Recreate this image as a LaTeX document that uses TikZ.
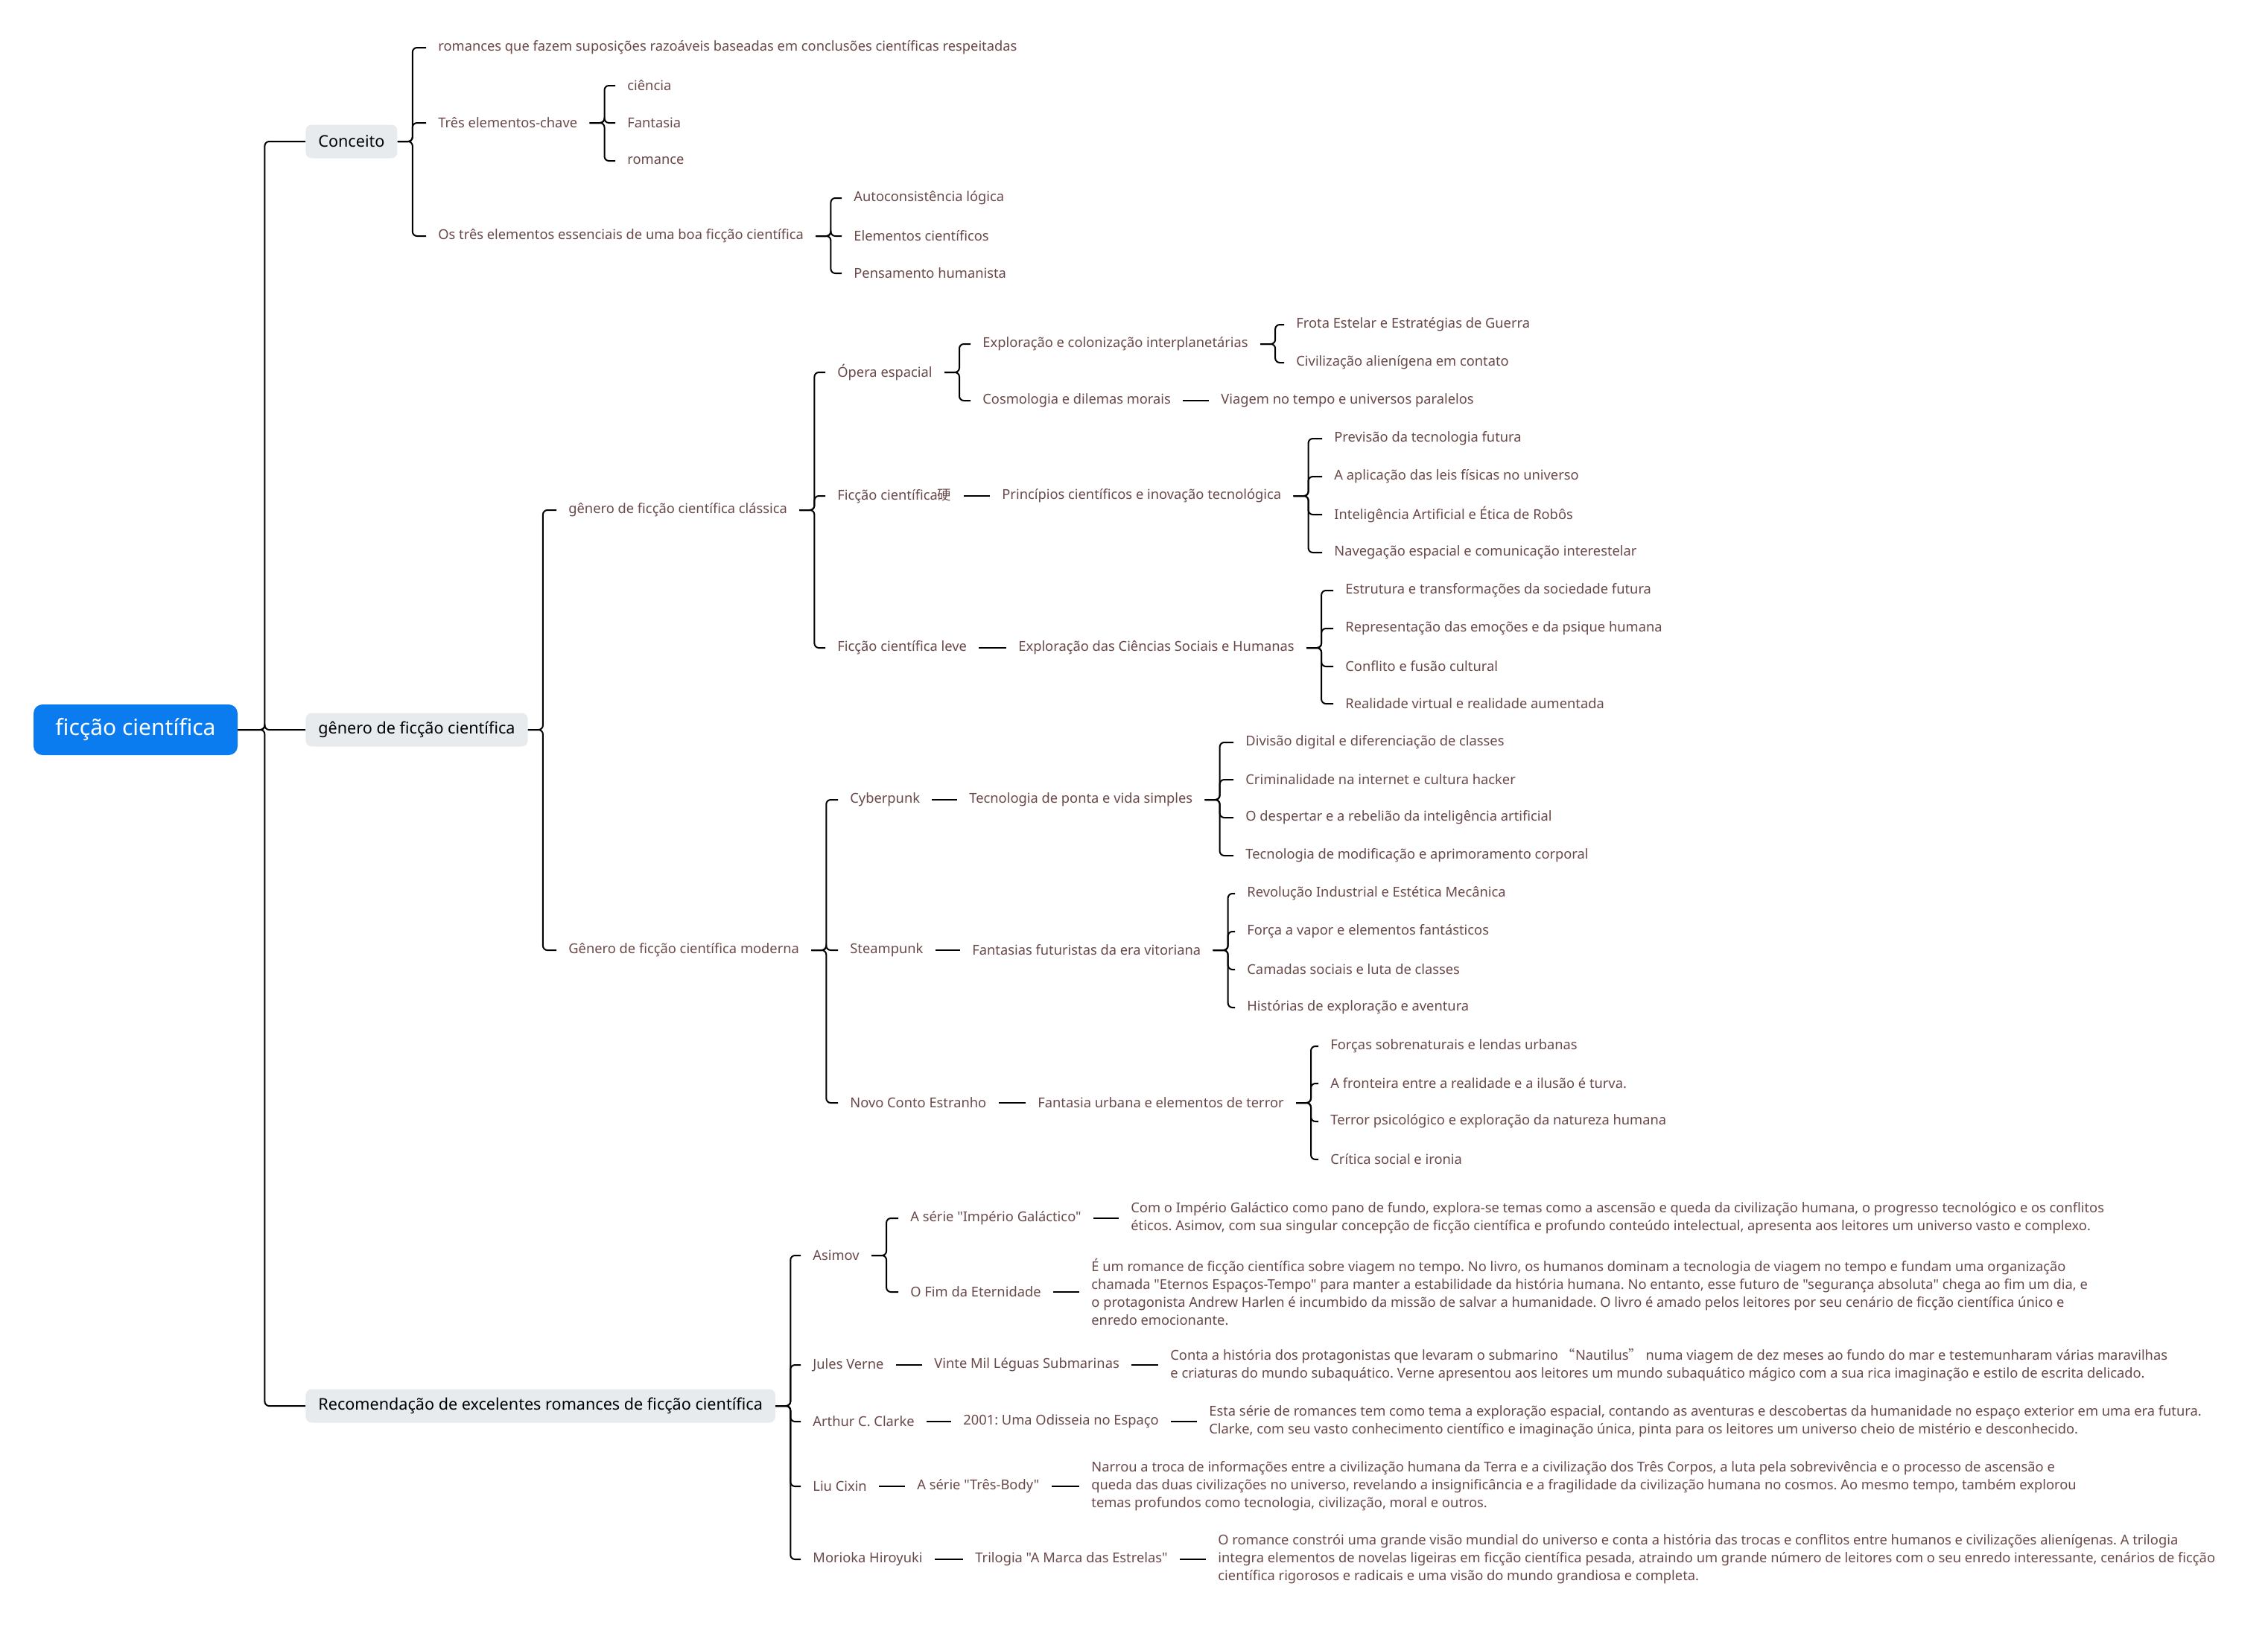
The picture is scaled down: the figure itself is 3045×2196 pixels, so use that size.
\documentclass[tikz,border=0pt]{standalone}
\usepackage{fontspec}
\setmainfont{Noto Sans}[Ligatures=TeXOff]
\newfontfamily\cjk{Noto Sans CJK SC}
\usepackage{tikz}
\definecolor{rootblue}{RGB}{11,124,240}
\definecolor{topicgray}{RGB}{232,235,238}
\definecolor{leafbrown}{RGB}{105,72,72}
\frenchspacing

\begin{document}
\begin{tikzpicture}[x=0.5pt, y=-0.5pt,
  every node/.style={font=\fontsize{9.15}{12}\selectfont},
  root/.style={rounded corners=6pt, fill=rootblue, text=white, font=\fontsize{15}{18}\selectfont, minimum width=137pt, minimum height=34pt},
  topic/.style={rounded corners=4pt, fill=topicgray, text=black, font=\fontsize{10.8}{13}\selectfont, inner xsep=8.5pt, minimum height=22.5pt, anchor=west},
  leaf/.style={text=leafbrown, inner xsep=8pt, inner ysep=2pt, anchor=west},
  desc/.style={leaf, align=left},
  link/.style={draw=black, line width=1pt, rounded corners=3pt}]
\useasboundingbox (0,0) rectangle (3045,2196);

% root and main topics
\node[root] (sf) at (182,980) {ficção científica};
\node[topic] (conc) at (410,190) {Conceito};
\node[topic] (gen) at (410,980) {gênero de ficção científica};
\node[topic] (rec) at (410,1888) {Recomendação de excelentes romances de ficção científica};

% Conceito
\node[leaf] (def) at (572,64) {romances que fazem suposições razoáveis baseadas em conclusões científicas respeitadas};
\node[leaf] (tres) at (572,165) {Três elementos-chave};
\node[leaf] (ess) at (572,317) {Os três elementos essenciais de uma boa ficção científica};
\node[leaf] (cien) at (826,115) {ciência};
\node[leaf] (fant) at (826,165) {Fantasia};
\node[leaf] (rom) at (826,216) {romance};
\node[leaf] (auto) at (1130,266) {Autoconsistência lógica};
\node[leaf] (elem) at (1130,317) {Elementos científicos};
\node[leaf] (hum) at (1130,367) {Pensamento humanista};

% genero classico
\node[leaf] (cla) at (747,685) {gênero de ficção científica clássica};
\node[leaf] (opera) at (1108,500) {Ópera espacial};
\node[leaf] (hard) at (1108,666) {Ficção científica{\cjk 硬}};
\node[leaf] (soft) at (1108,870) {Ficção científica leve};
\node[leaf] (expl) at (1303,462) {Exploração e colonização interplanetárias};
\node[leaf] (cosmo) at (1303,538) {Cosmologia e dilemas morais};
\node[leaf] (frota) at (1724,436) {Frota Estelar e Estratégias de Guerra};
\node[leaf] (alien) at (1724,487) {Civilização alienígena em contato};
\node[leaf] (tempo) at (1623,538) {Viagem no tempo e universos paralelos};
\node[leaf] (princ) at (1329,666) {Princípios científicos e inovação tecnológica};
\node[leaf] (prev) at (1775,589) {Previsão da tecnologia futura};
\node[leaf] (leis) at (1775,640) {A aplicação das leis físicas no universo};
\node[leaf] (ia) at (1775,691) {Inteligência Artificial e Ética de Robôs};
\node[leaf] (nav) at (1775,742) {Navegação espacial e comunicação interestelar};
\node[leaf] (soc) at (1351,870) {Exploração das Ciências Sociais e Humanas};
\node[leaf] (estr) at (1790,793) {Estrutura e transformações da sociedade futura};
\node[leaf] (emo) at (1790,844) {Representação das emoções e da psique humana};
\node[leaf] (cult) at (1790,895) {Conflito e fusão cultural};
\node[leaf] (rv) at (1790,945) {Realidade virtual e realidade aumentada};

% genero moderno
\node[leaf] (mod) at (747,1276) {Gênero de ficção científica moderna};
\node[leaf] (cyber) at (1125,1074) {Cyberpunk};
\node[leaf] (steam) at (1125,1276) {Steampunk};
\node[leaf] (weird) at (1125,1481) {Novo Conto Estranho};
\node[leaf] (ponta) at (1285,1074) {Tecnologia de ponta e vida simples};
\node[leaf] (div) at (1656,997) {Divisão digital e diferenciação de classes};
\node[leaf] (hack) at (1656,1047) {Criminalidade na internet e cultura hacker};
\node[leaf] (desp) at (1656,1098) {O despertar e a rebelião da inteligência artificial};
\node[leaf] (corp) at (1656,1149) {Tecnologia de modificação e aprimoramento corporal};
\node[leaf] (vito) at (1289,1276) {Fantasias futuristas da era vitoriana};
\node[leaf] (revo) at (1658,1200) {Revolução Industrial e Estética Mecânica};
\node[leaf] (vapor) at (1658,1251) {Força a vapor e elementos fantásticos};
\node[leaf] (camad) at (1658,1302) {Camadas sociais e luta de classes};
\node[leaf] (avent) at (1658,1353) {Histórias de exploração e aventura};
\node[leaf] (urb) at (1377,1481) {Fantasia urbana e elementos de terror};
\node[leaf] (sobren) at (1770,1405) {Forças sobrenaturais e lendas urbanas};
\node[leaf] (front) at (1770,1455) {A fronteira entre a realidade e a ilusão é turva.};
\node[leaf] (psic) at (1770,1506) {Terror psicológico e exploração da natureza humana};
\node[leaf] (crit) at (1770,1557) {Crítica social e ironia};

% recomendacoes
\node[leaf] (asimov) at (1075,1686) {Asimov};
\node[leaf] (verne) at (1075,1833) {Jules Verne};
\node[leaf] (clarke) at (1075,1909) {Arthur C. Clarke};
\node[leaf] (liu) at (1075,1996) {Liu Cixin};
\node[leaf] (morioka) at (1075,2094) {Morioka Hiroyuki};
\node[leaf] (imper) at (1206,1636) {A série "Império Galáctico"};
\node[leaf] (eterna) at (1206,1735) {O Fim da Eternidade};
\node[desc] (imperd) at (1502,1636) {Com o Império Galáctico como pano de fundo, explora-se temas como a ascensão e queda da civilização humana, o progresso tecnológico e os conflitos\\éticos. Asimov, com sua singular concepção de ficção científica e profundo conteúdo intelectual, apresenta aos leitores um universo vasto e complexo.};
\node[desc] (eternad) at (1449,1735) {É um romance de ficção científica sobre viagem no tempo. No livro, os humanos dominam a tecnologia de viagem no tempo e fundam uma organização\\chamada "Eternos Espaços-Tempo" para manter a estabilidade da história humana. No entanto, esse futuro de "segurança absoluta" chega ao fim um dia, e\\o protagonista Andrew Harlen é incumbido da missão de salvar a humanidade. O livro é amado pelos leitores por seu cenário de ficção científica único e\\enredo emocionante.};
\node[leaf] (nemo) at (1238,1833) {Vinte Mil Léguas Submarinas};
\node[desc] (nemod) at (1555,1833) {Conta a história dos protagonistas que levaram o submarino {\cjk “}Nautilus{\cjk ”} numa viagem de dez meses ao fundo do mar e testemunharam várias maravilhas\\e criaturas do mundo subaquático. Verne apresentou aos leitores um mundo subaquático mágico com a sua rica imaginação e estilo de escrita delicado.};
\node[leaf] (odis) at (1277,1909) {2001: Uma Odisseia no Espaço};
\node[desc] (odisd) at (1607,1909) {Esta série de romances tem como tema a exploração espacial, contando as aventuras e descobertas da humanidade no espaço exterior em uma era futura.\\Clarke, com seu vasto conhecimento científico e imaginação única, pinta para os leitores um universo cheio de mistério e desconhecido.};
\node[leaf] (body) at (1215,1996) {A série "Três-Body"};
\node[desc] (bodyd) at (1449,1996) {Narrou a troca de informações entre a civilização humana da Terra e a civilização dos Três Corpos, a luta pela sobrevivência e o processo de ascensão e\\queda das duas civilizações no universo, revelando a insignificância e a fragilidade da civilização humana no cosmos. Ao mesmo tempo, também explorou\\temas profundos como tecnologia, civilização, moral e outros.};
\node[leaf] (marca) at (1293,2094) {Trilogia "A Marca das Estrelas"};
\node[desc] (marcad) at (1619,2094) {O romance constrói uma grande visão mundial do universo e conta a história das trocas e conflitos entre humanos e civilizações alienígenas. A trilogia\\integra elementos de novelas ligeiras em ficção científica pesada, atraindo um grande número de leitores com o seu enredo interessante, cenários de ficção\\científica rigorosos e radicais e uma visão do mundo grandiosa e completa.};

% trunk
\draw[link] (sf.east) -- ++(36,0) |- (conc.west);
\draw[link] (sf.east) -- ++(36,0) |- (gen.west);
\draw[link] (sf.east) -- ++(36,0) |- (rec.west);

% Conceito links
\draw[link] (conc.east) -- ++(20,0) |- (def.west);
\draw[link] (conc.east) -- ++(20,0) |- (tres.west);
\draw[link] (conc.east) -- ++(20,0) |- (ess.west);
\draw[link] (tres.east) -- ++(20,0) |- (cien.west);
\draw[link] (tres.east) -- ++(20,0) |- (fant.west);
\draw[link] (tres.east) -- ++(20,0) |- (rom.west);
\draw[link] (ess.east) -- ++(20,0) |- (auto.west);
\draw[link] (ess.east) -- ++(20,0) |- (elem.west);
\draw[link] (ess.east) -- ++(20,0) |- (hum.west);

% genero links
\draw[link] (gen.east) -- ++(20,0) |- (cla.west);
\draw[link] (gen.east) -- ++(20,0) |- (mod.west);
\draw[link] (cla.east) -- ++(20,0) |- (opera.west);
\draw[link] (cla.east) -- ++(20,0) |- (hard.west);
\draw[link] (cla.east) -- ++(20,0) |- (soft.west);
\draw[link] (opera.east) -- ++(20,0) |- (expl.west);
\draw[link] (opera.east) -- ++(20,0) |- (cosmo.west);
\draw[link] (expl.east) -- ++(20,0) |- (frota.west);
\draw[link] (expl.east) -- ++(20,0) |- (alien.west);
\draw[link] (cosmo) -- (tempo);
\draw[link] (hard) -- (princ);
\draw[link] (princ.east) -- ++(20,0) |- (prev.west);
\draw[link] (princ.east) -- ++(20,0) |- (leis.west);
\draw[link] (princ.east) -- ++(20,0) |- (ia.west);
\draw[link] (princ.east) -- ++(20,0) |- (nav.west);
\draw[link] (soft) -- (soc);
\draw[link] (soc.east) -- ++(20,0) |- (estr.west);
\draw[link] (soc.east) -- ++(20,0) |- (emo.west);
\draw[link] (soc.east) -- ++(20,0) |- (cult.west);
\draw[link] (soc.east) -- ++(20,0) |- (rv.west);
\draw[link] (mod.east) -- ++(20,0) |- (cyber.west);
\draw[link] (mod.east) -- ++(20,0) |- (steam.west);
\draw[link] (mod.east) -- ++(20,0) |- (weird.west);
\draw[link] (cyber) -- (ponta);
\draw[link] (ponta.east) -- ++(20,0) |- (div.west);
\draw[link] (ponta.east) -- ++(20,0) |- (hack.west);
\draw[link] (ponta.east) -- ++(20,0) |- (desp.west);
\draw[link] (ponta.east) -- ++(20,0) |- (corp.west);
\draw[link] (steam) -- (vito);
\draw[link] (vito.east) -- ++(20,0) |- (revo.west);
\draw[link] (vito.east) -- ++(20,0) |- (vapor.west);
\draw[link] (vito.east) -- ++(20,0) |- (camad.west);
\draw[link] (vito.east) -- ++(20,0) |- (avent.west);
\draw[link] (weird) -- (urb);
\draw[link] (urb.east) -- ++(20,0) |- (sobren.west);
\draw[link] (urb.east) -- ++(20,0) |- (front.west);
\draw[link] (urb.east) -- ++(20,0) |- (psic.west);
\draw[link] (urb.east) -- ++(20,0) |- (crit.west);

% recomendacao links
\draw[link] (rec.east) -- ++(20,0) |- (asimov.west);
\draw[link] (rec.east) -- ++(20,0) |- (verne.west);
\draw[link] (rec.east) -- ++(20,0) |- (clarke.west);
\draw[link] (rec.east) -- ++(20,0) |- (liu.west);
\draw[link] (rec.east) -- ++(20,0) |- (morioka.west);
\draw[link] (asimov.east) -- ++(20,0) |- (imper.west);
\draw[link] (asimov.east) -- ++(20,0) |- (eterna.west);
\draw[link] (imper) -- (imperd);
\draw[link] (eterna) -- (eternad);
\draw[link] (verne) -- (nemo);
\draw[link] (nemo) -- (nemod);
\draw[link] (clarke) -- (odis);
\draw[link] (odis) -- (odisd);
\draw[link] (liu) -- (body);
\draw[link] (body) -- (bodyd);
\draw[link] (morioka) -- (marca);
\draw[link] (marca) -- (marcad);
\end{tikzpicture}
\end{document}
